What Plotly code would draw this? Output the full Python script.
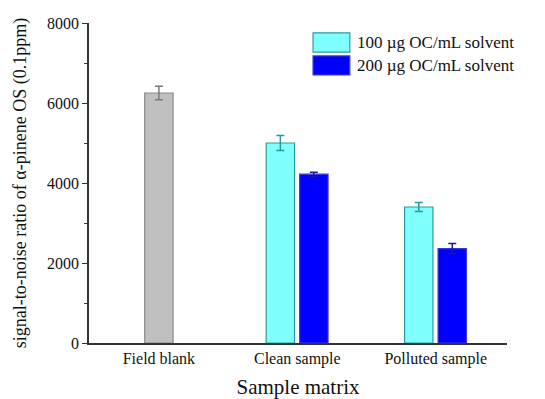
import plotly.graph_objects as go

categories = ["Field blank", "Clean sample", "Polluted sample"]
blank_value = [6250]
blank_err = [170]
s100_values = [5000, 3400]
s100_err = [190, 110]
s200_values = [4220, 2360]
s200_err = [50, 130]
series_names = ["100 µg OC/mL solvent", "200 µg OC/mL solvent"]
y_ticks = [0, 2000, 4000, 6000, 8000]

FONT = "Liberation Serif, Times New Roman, serif"
W = 0.205

fig = go.Figure()
fig.add_trace(go.Bar(
    x=[0], y=blank_value, width=W, offset=-W / 2,
    marker=dict(color="#c0c0c0", line=dict(color="#8a8a8a", width=1.2)),
    error_y=dict(type="data", array=blank_err, color="#7a7a7a", thickness=1.5, width=4),
    showlegend=False, name=categories[0]))
fig.add_trace(go.Bar(
    x=[1, 2], y=s100_values, width=W, offset=-0.225,
    marker=dict(color="#80ffff", line=dict(color="#2e9c9c", width=1.2)),
    error_y=dict(type="data", array=s100_err, color="#2a9a9a", thickness=1.5, width=4),
    showlegend=False, name=series_names[0]))
fig.add_trace(go.Bar(
    x=[1, 2], y=s200_values, width=W, offset=0.017,
    marker=dict(color="#0000ff", line=dict(color="#3a3ad0", width=1.2)),
    error_y=dict(type="data", array=s200_err, color="#1a1aa0", thickness=1.5, width=4),
    showlegend=False, name=series_names[1]))

# custom legend (swatches + text)
legend_items = [
    ("#80ffff", "#2e9c9c", series_names[0], 0.969, 0.909),
    ("#0000ff", "#3a3ad0", series_names[1], 0.897, 0.8375),
]
for fill, border, label, y1, y0 in legend_items:
    fig.add_shape(type="rect", xref="paper", yref="paper",
                  x0=0.536, x1=0.624, y0=y0, y1=y1,
                  fillcolor=fill, line=dict(color=border, width=1.2))
    fig.add_annotation(xref="paper", yref="paper", x=0.636, y=(y0 + y1) / 2,
                       text=label, showarrow=False, xanchor="left", yanchor="middle",
                       font=dict(family=FONT, size=17, color="#111"))

fig.update_layout(
    width=545, height=399,
    margin=dict(l=89, r=38, t=23, b=56, autoexpand=False),
    paper_bgcolor="white", plot_bgcolor="white",
    font=dict(family=FONT, size=16, color="#111"),
    barmode="overlay",
    xaxis=dict(
        range=[-0.505, 2.515], tickmode="array", tickvals=[0, 1, 2],
        ticktext=categories, ticks="", showgrid=False, zeroline=False,
        showline=True, linecolor="#333", linewidth=1.5,
        tickfont=dict(size=16), automargin=False,
        title=dict(text="Sample matrix", font=dict(size=21), standoff=17),
    ),
    yaxis=dict(
        range=[0, 8000], tickvals=y_ticks, ticks="outside", ticklen=5,
        tickwidth=1.2, tickcolor="#333", showgrid=False, zeroline=False,
        showline=True, linecolor="#333", linewidth=1.5,
        minor=dict(ticks="outside", dtick=1000, ticklen=3, tickcolor="#333", tickwidth=1),
        tickfont=dict(size=16), automargin=False,
        title=dict(text="signal-to-noise ratio of α-pinene OS (0.1ppm)",
                   font=dict(size=18), standoff=16),
    ),
)

fig.write_html("out.html", config={"displayModeBar": False},
               post_script="document.body.style.margin='0px';")
